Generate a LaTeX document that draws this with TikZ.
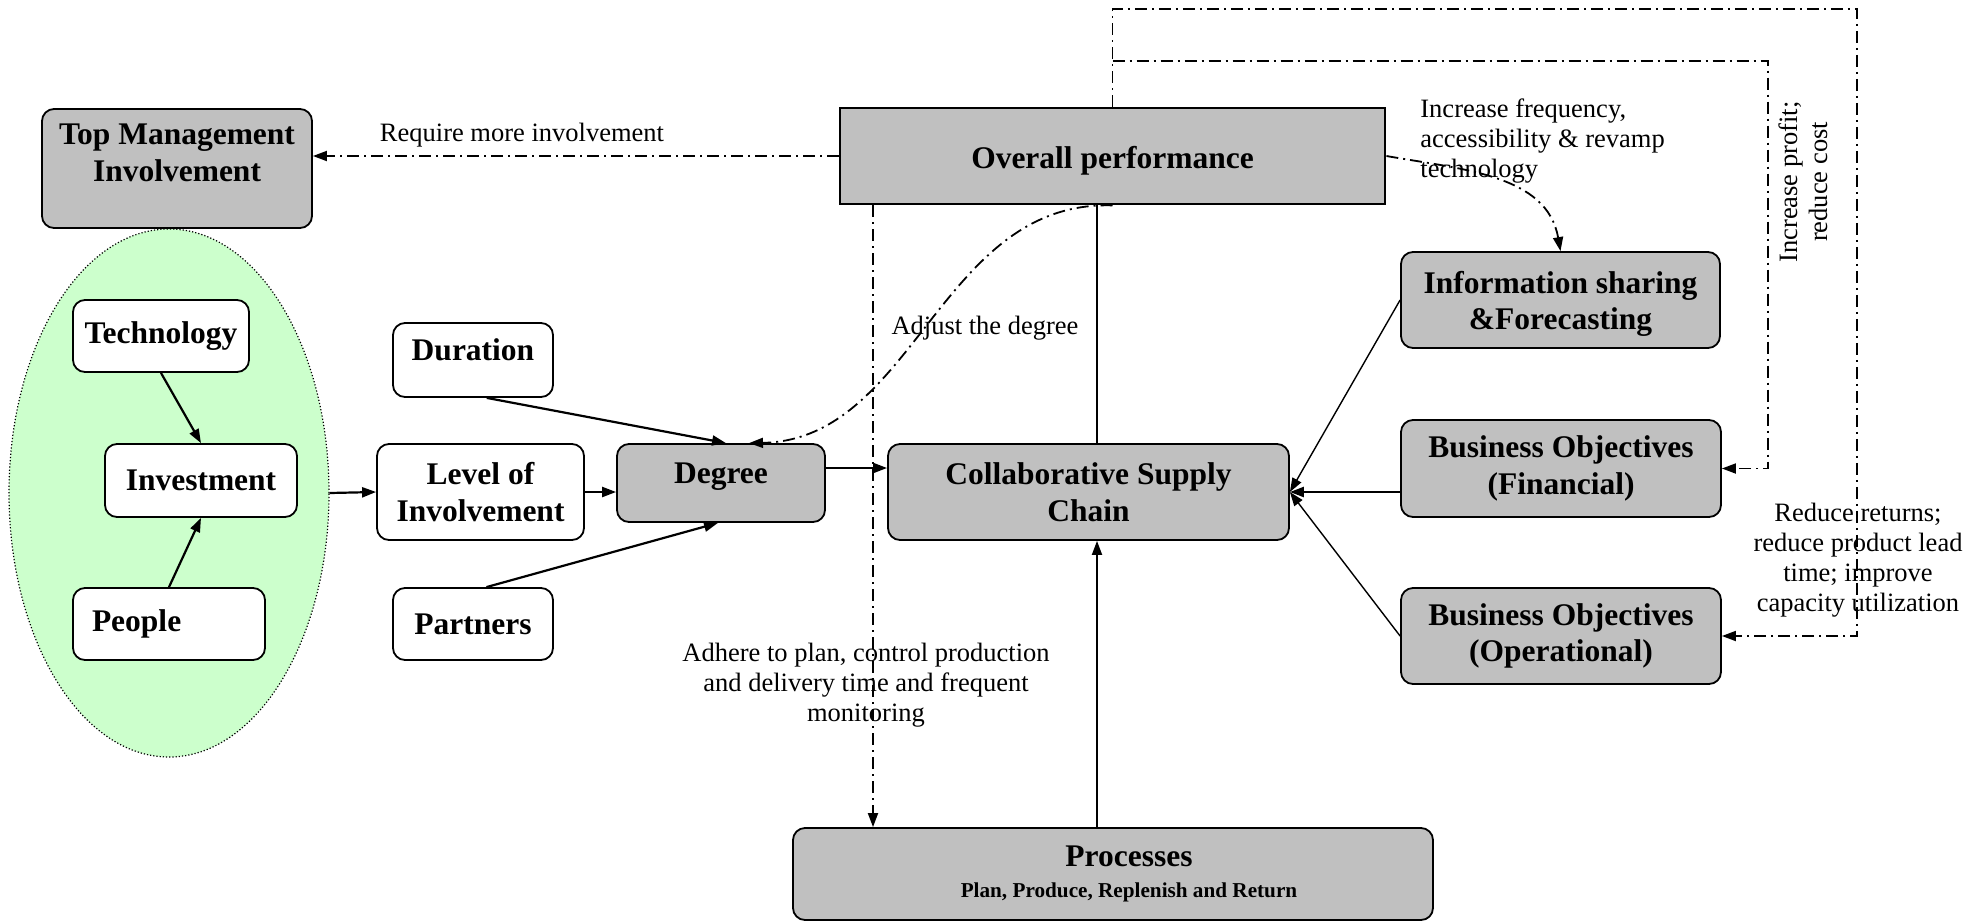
\documentclass[tikz,border=0pt]{standalone}
\usepackage{fontspec}
\setmainfont{Liberation Serif}
\usetikzlibrary{arrows.meta,positioning,shapes.geometric}

\definecolor{boxgray}{HTML}{C0C0C0}
\definecolor{softgreen}{HTML}{CCFFCC}
\newcommand{\bxfont}{\fontsize{15.75pt}{18.3pt}\selectfont\bfseries}
\newcommand{\lbfont}{\fontsize{13.25pt}{15pt}\selectfont}
\newcommand{\subfont}{\fontsize{10.6pt}{12pt}\selectfont\bfseries}

\begin{document}
\begin{tikzpicture}[
      x=0.5pt, y=-0.5pt,
      whitebox/.style={
         rectangle,
         rounded corners=6pt,
         draw=black,
         line width=0.9pt,
         fill=white,
         align=center,
         inner sep=1pt,
         font=\bxfont},
      graybox/.style={whitebox, fill=boxgray},
      raised/.style={text height=11pt, text depth=11pt},
      myarrow/.style={-{Triangle[length=7pt,width=5pt]}, line width=1.1pt},
      thinarrow/.style={myarrow, line width=0.7pt},
      dashdot/.style={line width=0.9pt, dash pattern=on 6pt off 2.5pt on 1pt off 2.5pt},
      dasharrow/.style={dashdot, -{Triangle[length=7pt,width=5pt]}},
      note/.style={font=\lbfont, align=center, inner sep=0pt}
      ]
\useasboundingbox (0,0) rectangle (1988,922);

% green group
\node[ellipse, draw=black, fill=softgreen, line width=0.6pt, dash pattern=on 0.6pt off 1pt,
      minimum width=160pt, minimum height=264pt] (skills) at (169,493) {};

\node[graybox, minimum width=135pt, minimum height=59.5pt] (topmgmt) at (177,168.5) {Top Management\\Involvement\rule[-16pt]{0pt}{16pt}};
\node[whitebox, minimum width=88pt, minimum height=36pt] (technology) at (161,336) {Technology};
\node[whitebox, minimum width=96pt, minimum height=36.5pt] (investment) at (201,480.5) {Investment};
\node[whitebox, minimum width=96pt, minimum height=36pt, text width=77pt, align=left, inner xsep=9.5pt] (people) at (169,624) {People};

\node[whitebox, raised, minimum width=80pt, minimum height=37pt] (duration) at (473,360) {Duration};
\node[whitebox, minimum width=103.5pt, minimum height=48pt] (level) at (480.5,492) {Level of\\Involvement};
\node[graybox, raised, minimum width=104pt, minimum height=39pt] (degree) at (721,483) {Degree};
\node[whitebox, minimum width=80pt, minimum height=36pt] (partners) at (473,624) {Partners};

\node[graybox, sharp corners, line width=1.4pt, text height=16pt, text depth=3.5pt,
      minimum width=272.5pt, minimum height=48pt] (overall) at (1112.5,156) {Overall performance};
\node[graybox, minimum width=200.5pt, minimum height=48pt] (csc) at (1088.5,492) {Collaborative Supply\\Chain};
\node[graybox, minimum width=159.5pt, minimum height=48pt] (info) at (1560.5,300) {\rule{0pt}{15pt}Information sharing\\\&Forecasting};
\node[graybox, minimum width=160pt, minimum height=48.5pt] (fin) at (1561,468.5) {Business Objectives\\(Financial)};
\node[graybox, minimum width=160pt, minimum height=48pt] (oper) at (1561,636) {Business Objectives\\(Operational)};
\node[graybox, minimum width=320pt, minimum height=46pt] (processes) at (1113,874)
   {\hspace*{16pt}Processes\\[-3pt]{\subfont\hspace*{16pt}Plan, Produce, Replenish and Return}};

% solid connectors
\draw[myarrow] (technology.south) -- (investment.north);
\draw[myarrow] (people.north) -- (investment.south);
\draw[myarrow] (skills.east) -- (level.west);
\draw[myarrow] (level.east) -- (level.east -| degree.west);
\draw[myarrow] (duration.-70) -- ([xshift=2.5pt]degree.north);
\draw[myarrow] (partners.70) -- ([xshift=-1.5pt]degree.south);
\draw[myarrow] ([yshift=7.5pt]degree.east) -- ([yshift=7.5pt]degree.east -| csc.west);

\draw[thinarrow] (info.west) -- (csc.east);
\draw[myarrow] (fin.west |- csc.east) -- (csc.east);
\draw[thinarrow] (oper.west) -- (csc.east);

\coordinate (spine) at (1097,0);
\draw[line width=0.7pt] (spine |- overall.south) -- (spine |- csc.north);
\draw[myarrow, line width=0.9pt] (spine |- processes.north) -- (spine |- csc.south);

% feedback from overall performance
\coordinate (adhere) at (873,0);
\coordinate (outer) at (1857,9);
\coordinate (inner) at (1768,61);
\draw[dasharrow] (overall.west) -- (overall.west -| topmgmt.east);
\draw[dasharrow] (adhere |- overall.south) -- (adhere |- processes.north);
\draw[dasharrow] (overall.east) to[out=-10,in=100] (info.north);
\draw[dasharrow] (overall.south) .. controls (940,200) and (915,440) .. ([xshift=14pt]degree.north);
\draw[dasharrow] (overall.north) |- (outer) |- (oper.east);
\draw[dasharrow] (overall.north |- inner) -- (inner) |- (fin.east);

% labels
\node[note] (reqlabel) at (522,135) {Require more involvement};
\node[note, anchor=west, align=left] (freqlabel) at (1420,141) {Increase frequency,\\accessibility \& revamp\\technology};
\node[note] (adjlabel) at (985,328) {Adjust the degree};
\node[note, rotate=90] (profitlabel) at (1803,182) {Increase profit;\\reduce cost};
\node[note] (reducelabel) at (1858,560) {Reduce returns;\\reduce product lead\\time; improve\\capacity utilization};
\node[note] (adherelabel) at (866,685) {Adhere to plan, control production\\and delivery time and frequent\\monitoring};

\end{tikzpicture}
\end{document}
